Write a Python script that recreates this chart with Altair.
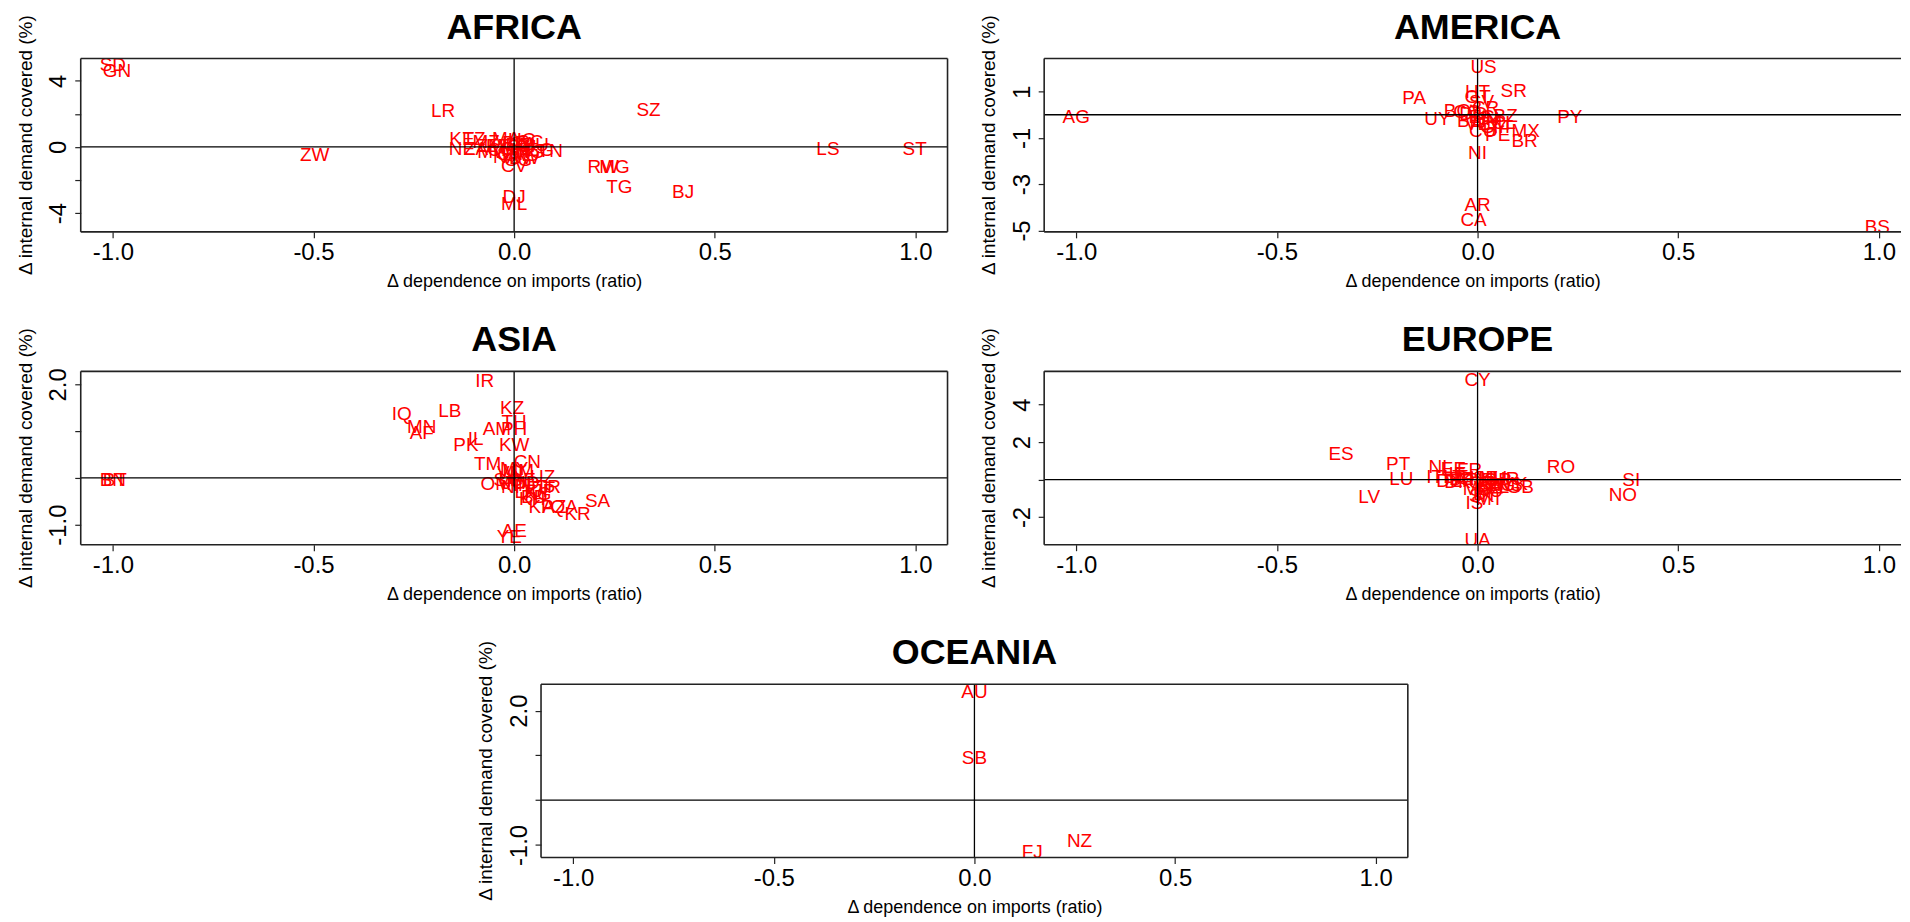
import altair as alt
import pandas as pd

FONT = "Liberation Sans"
W = 870
W_RIGHT = 860
H = 174
UNIT = W / 2.16

# ---------------- data ----------------
africa_codes = ["SD", "GN", "LR", "SZ", "ZW", "LS", "ST", "RW", "MG", "TG", "BJ", "DJ", "ML", "CV", "CG",
                "KE", "NE", "TZ", "ZA", "MZ", "MA", "UG", "DZ", "CM", "GH", "CI", "NG", "ET", "SN", "AO",
                "MW", "ZM", "BF", "MU", "GA", "TN", "EG", "NA", "BW", "SC"]
africa_x = [-1.0, -0.99, -0.177, 0.335, -0.497, 0.782, 0.998, 0.222, 0.25, 0.262, 0.421, 0.0, 0.0, 0.0, 0.01,
            -0.13, -0.13, -0.1, -0.095, -0.07, -0.02, 0.02, 0.01, -0.03, 0.0, 0.03, 0.04, -0.04, -0.01, 0.03,
            -0.05, -0.06, 0.0, 0.05, 0.02, 0.09, 0.065, -0.02, 0.025, 0.04]
africa_y = [4.95, 4.6, 2.15, 2.25, -0.5, -0.1, -0.1, -1.2, -1.2, -2.41, -2.73, -3.03, -3.48, -1.16, -0.8,
            0.5, -0.15, 0.45, -0.1, 0.3, 0.45, 0.4, 0.1, -0.2, -0.1, 0.05, -0.3, 0.05, -0.45, -0.5,
            -0.3, 0.05, 0.25, 0.1, 0.2, -0.25, -0.2, -0.6, -0.65, 0.3]

america_codes = ["US", "SR", "PA", "HT", "GT", "SV", "CR", "BO", "CO", "DO", "EC", "CL", "BZ", "JM", "CU",
                 "VE", "GY", "TT", "PE", "MX", "BR", "NI", "AR", "CA", "BS", "AG", "PY", "UY", "HN", "BB"]
america_x = [0.015, 0.09, -0.158, 0.0, 0.0, 0.01, 0.02, -0.05, -0.025, -0.01, 0.01, 0.065, 0.07, 0.03, 0.013,
             0.0, 0.04, 0.06, 0.05, 0.12, 0.117, 0.0, 0.0, -0.01, 0.996, -1.0, 0.23, -0.1, 0.02, -0.02]
america_y = [2.08, 1.03, 0.74, 1.0, 0.75, 0.55, 0.3, 0.14, 0.1, 0.05, -0.1, -0.35, -0.05, -0.3, -0.7,
             -0.4, -0.55, -0.55, -0.86, -0.72, -1.12, -1.65, -3.9, -4.56, -4.85, -0.12, -0.12, -0.17, -0.2, -0.25]

asia_codes = ["IR", "KZ", "IQ", "LB", "MN", "AF", "AM", "TH", "PH", "IL", "PK", "KW", "TM", "CN", "MY",
              "MM", "VN", "BN", "BT", "UZ", "OM", "SA", "KR", "KP", "AZ", "QA", "AE", "YE", "JO", "SY",
              "KG", "TJ", "LK", "IN", "ID", "BD", "JP", "NP", "GE", "TR", "KH", "LA"]
asia_x = [-0.073, -0.005, -0.28, -0.16, -0.23, -0.23, -0.043, 0.0, 0.0, -0.096, -0.12, 0.0, -0.066, 0.033, 0.0,
          0.01, -0.01, -1.0, -0.995, 0.071, -0.046, 0.208, 0.158, 0.067, 0.1, 0.125, 0.0, -0.012, 0.0, -0.02,
          0.059, 0.06, 0.03, 0.02, 0.04, 0.05, 0.075, 0.0, 0.02, 0.085, 0.045, -0.01]
asia_y = [2.08, 1.5, 1.37, 1.44, 1.08, 0.96, 1.05, 1.19, 1.05, 0.83, 0.71, 0.71, 0.3, 0.35, 0.2,
          0.15, 0.1, -0.05, -0.05, 0.01, -0.13, -0.49, -0.77, -0.63, -0.63, -0.62, -1.14, -1.27, -0.1, -0.05,
          -0.34, -0.22, -0.3, -0.15, -0.1, -0.4, -0.28, -0.2, -0.05, -0.2, -0.45, 0.0]

europe_codes = ["CY", "ES", "PT", "RO", "LU", "LV", "NL", "IT", "FR", "EE", "SI", "NO", "GB", "UA", "IS",
                "MT", "SK", "DE", "DK", "BE", "AT", "CH", "SE", "FI", "PL", "CZ", "HU", "GR", "BG", "HR",
                "RS", "LT", "IE", "MK", "AL", "BA", "MD", "RU", "BY"]
europe_x = [0.0, -0.34, -0.198, 0.208, -0.19, -0.27, -0.092, -0.107, -0.02, -0.06, 0.383, 0.362, 0.106, 0.0, -0.008,
            0.03, 0.01, -0.07, -0.05, -0.04, -0.03, -0.02, 0.02, 0.03, -0.01, 0.01, 0.04, 0.05, 0.06, 0.07,
            0.08, -0.06, -0.05, 0.09, 0.05, 0.03, 0.0, 0.03, 0.02]
europe_y = [5.3, 1.38, 0.84, 0.66, 0.04, -0.95, 0.66, 0.12, 0.5, 0.55, -0.02, -0.82, -0.38, -3.23, -1.27,
            -1.03, -0.9, -0.1, -0.15, 0.05, -0.05, 0.1, 0.1, -0.05, -0.1, -0.2, 0.1, 0.0, -0.3, 0.05,
            -0.3, 0.15, 0.3, -0.25, -0.4, -0.35, -0.5, -0.6, -0.75]

oceania_codes = ["AU", "SB", "NZ", "FJ"]
oceania_x = [0.0, 0.0, 0.262, 0.144]
oceania_y = [2.41, 0.95, -0.91, -1.15]

# axis ticks / labels
x_ticks = [-1.0, -0.5, 0.0, 0.5, 1.0]
x_tick_labels = ["-1.0", "-0.5", "0.0", "0.5", "1.0"]

africa_yticks = [-4, -2, 0, 2, 4]
africa_ylab_vals = [4, 0, -4]
africa_ylab_txt = ["4", "0", "-4"]

america_yticks = [-5, -4, -3, -2, -1, 0, 1, 2]
america_ylab_vals = [1, -1, -3, -5]
america_ylab_txt = ["1", "-1", "-3", "-5"]

asia_yticks = [-1.0, -0.5, 0.0, 0.5, 1.0, 1.5, 2.0]
asia_ylab_vals = [2.0, 0.5, -1.0]
asia_ylab_txt = ["2.0", "0.5", "-1.0"]

europe_yticks = [-2, 0, 2, 4]
europe_ylab_vals = [4, 2, -2]
europe_ylab_txt = ["4", "2", "-2"]

oceania_yticks = [-1.0, -0.5, 0.0, 0.5, 1.0, 1.5, 2.0, 2.5]
oceania_ylab_vals = [2.0, 0.5, -1.0]
oceania_ylab_txt = ["2.0", "0.5", "-1.0"]

africa_ydom = [-5.14, 5.35]
america_ydom = [-5.06, 2.43]
asia_ydom = [-1.43, 2.28]
europe_ydom = [-3.48, 5.78]
oceania_ydom = [-1.28, 2.59]

X_TITLE = "Δ dependence on imports (ratio)"
Y_TITLE = "Δ internal demand covered (%)"


def label_expr(vals, txts):
    expr = "''"
    for v, t in reversed(list(zip(vals, txts))):
        expr = f"(abs(datum.value - ({v})) < 1e-6 ? '{t}' : {expr})"
    return expr


def panel(title, codes, xs, ys, ydom, yticks, lvals, ltxts, width, right_border=True):
    df = pd.DataFrame({"code": codes, "x": xs, "y": ys})
    one = pd.DataFrame({"k": [0]})
    xdom = [-1.08, -1.08 + width / UNIT]
    xaxis = alt.Axis(
        values=x_ticks, labelExpr=label_expr(x_ticks, x_tick_labels),
        title=X_TITLE, grid=False, domain=False,
        tickSize=6, tickColor="#222", tickWidth=1.2,
        labelFont=FONT, labelFontSize=24, labelPadding=3, labelColor="#000",
        labelFlush=False, labelOverlap=False, labelBound=False,
        titleFont=FONT, titleFontSize=18, titleFontWeight="normal", titlePadding=8, titleColor="#000",
    )
    yaxis = alt.Axis(
        values=yticks, labelExpr=label_expr(lvals, ltxts),
        title=None, grid=False, domain=False,
        tickSize=6, tickColor="#222", tickWidth=1.2,
        labelFont=FONT, labelFontSize=24, labelPadding=9, labelColor="#000",
        labelAngle=270, labelAlign="center", labelBaseline="alphabetic",
        labelFlush=False, labelOverlap=False, labelBound=False,
    )
    text = alt.Chart(df).mark_text(color="#FF0000", font=FONT, fontSize=19, clip=True).encode(
        x=alt.X("x:Q", scale=alt.Scale(domain=xdom, nice=False, zero=False), axis=xaxis),
        y=alt.Y("y:Q", scale=alt.Scale(domain=ydom, nice=False, zero=False), axis=yaxis),
        text="code:N",
    )
    hline = alt.Chart(one).mark_rule(color="#000", strokeWidth=1.3).encode(y=alt.datum(0))
    vline = alt.Chart(one).mark_rule(color="#000", strokeWidth=1.3).encode(x=alt.datum(0))
    fr = dict(color="#222", strokeWidth=1.6)
    top = alt.Chart(one).mark_rule(**fr).encode(x=alt.value(0), x2=alt.value(width), y=alt.value(0))
    bottom = alt.Chart(one).mark_rule(**fr).encode(x=alt.value(0), x2=alt.value(width), y=alt.value(H))
    left = alt.Chart(one).mark_rule(**fr).encode(x=alt.value(0), y=alt.value(0), y2=alt.value(H))
    ptitle = alt.Chart(one).mark_text(
        text=title, font=FONT, fontSize=36, fontWeight="bold", color="#000",
        align="center", baseline="alphabetic",
    ).encode(x=alt.value(W / 2), y=alt.value(-20))
    ytitle = alt.Chart(one).mark_text(
        text=Y_TITLE, font=FONT, fontSize=19, color="#000", angle=270,
        align="center", baseline="alphabetic",
    ).encode(x=alt.value(-49), y=alt.value(H / 2))
    layers = [text, hline, vline, top, bottom, left, ptitle, ytitle]
    if right_border:
        layers.append(alt.Chart(one).mark_rule(**fr).encode(x=alt.value(width), y=alt.value(0), y2=alt.value(H)))
    return alt.layer(*layers).properties(width=width, height=H)


africa = panel("AFRICA", africa_codes, africa_x, africa_y, africa_ydom, africa_yticks,
               africa_ylab_vals, africa_ylab_txt, W)
america = panel("AMERICA", america_codes, america_x, america_y, america_ydom, america_yticks,
                america_ylab_vals, america_ylab_txt, W_RIGHT, right_border=False)
asia = panel("ASIA", asia_codes, asia_x, asia_y, asia_ydom, asia_yticks,
             asia_ylab_vals, asia_ylab_txt, W)
europe = panel("EUROPE", europe_codes, europe_x, europe_y, europe_ydom, europe_yticks,
               europe_ylab_vals, europe_ylab_txt, W_RIGHT, right_border=False)
oceania = panel("OCEANIA", oceania_codes, oceania_x, oceania_y, oceania_ydom, oceania_yticks,
                oceania_ylab_vals, oceania_ylab_txt, W)

spacer = alt.Chart(pd.DataFrame({"k": [0]})).mark_point(opacity=0).encode(
    x=alt.value(0), y=alt.value(0)).properties(
    width=397, height=H, view=alt.ViewBackground(stroke="transparent", strokeWidth=0))

row1 = alt.hconcat(africa, america, spacing=31)
row2 = alt.hconcat(asia, europe, spacing=31)
row3 = alt.hconcat(spacer, oceania, spacing=0)

chart = alt.vconcat(row1, row2, row3, spacing=32).properties(
    padding={"left": 8, "top": 0, "right": 0, "bottom": 0}
).configure(background="white").configure_view(stroke="transparent", strokeWidth=0)

chart.save("out.html", embed_options={"renderer": "svg", "actions": False})
